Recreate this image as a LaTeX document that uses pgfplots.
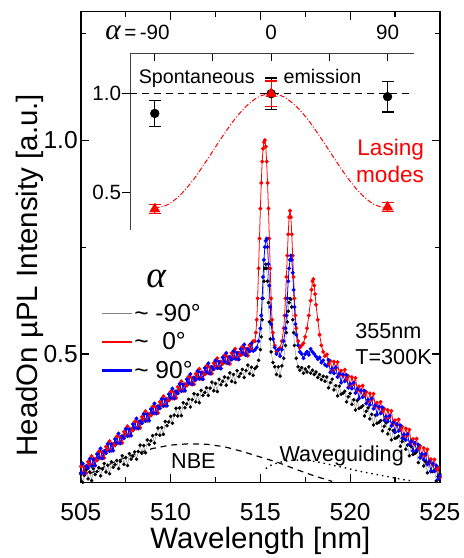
\documentclass[border=0pt]{standalone}
\usepackage{fontspec}
\setmainfont{Liberation Sans}
\newfontfamily\greekserif{Liberation Serif}
\usepackage{pgfplots}
\pgfplotsset{compat=1.18}
\begin{document}
\begin{tikzpicture}
\begin{axis}[
  name=main,
  at={(0,0)}, anchor=south west,
  scale only axis, width=364bp, height=477bp,
  xmin=505, xmax=525, ymin=0.2, ymax=1.3,
  xtick={505,510,515,520,525}, xticklabels={505,510,515,520,525},
  minor xtick={507.5,512.5,517.5,522.5},
  ytick={0.5,1.0}, yticklabels={0.5,1.0},
  minor ytick={0.75,1.25},
  tick align=inside,
  major tick length=8bp, minor tick length=5bp,
  every tick/.style={black, line width=1.1bp},
  axis line style={line width=1.3bp},
  xticklabel style={font=\fontsize{25}{25}\selectfont, anchor=base, yshift=-39bp},
  yticklabel style={font=\fontsize{25}{25}\selectfont, anchor=east, inner sep=0pt, xshift=-3bp},
  xlabel={Wavelength [nm]},
  xlabel style={font=\fontsize{30}{30}\selectfont, at={(axis description cs:0.5,-0.141)}, anchor=base},
  ylabel={HeadOn µPL Intensity [a.u.]},
  ylabel style={font=\fontsize{30}{30}\selectfont, at={(axis description cs:-0.121,0.44)}, anchor=base},
  legend style={at={(axis cs:506.1,0.62)}, anchor=north west, draw=none, fill=none,
    font=\fontsize{25}{25}\selectfont, inner sep=0pt, row sep=7bp,
    nodes={inner sep=1.5bp}},
  legend cell align=left,
  legend image code/.code={\draw[#1] (0bp,0bp) -- (30bp,0bp);},
]
% NBE and waveguiding
\addplot[forget plot, black, line width=1.2bp, dash pattern=on 6bp off 5bp] coordinates {
(505.5,0.220) (506,0.230) (507,0.250) (508,0.266) (509,0.279) (510,0.287) (511,0.290) (512,0.289)
(513,0.283) (514,0.272) (515,0.259) (516,0.246) (517,0.230) (518,0.215) (519,0.202)};
\addplot[forget plot, black, line width=1.4bp, dash pattern=on 1.5bp off 4bp] coordinates {
(515.3,0.232) (515.6,0.240) (516,0.246) (516.5,0.250) (517,0.252) (517.5,0.251) (518,0.249)
(518.5,0.245) (519,0.240) (519.5,0.236) (520,0.231) (520.5,0.226) (521,0.222) (521.5,0.218)
(522,0.214) (522.5,0.210) (523,0.206) (523.5,0.203)};
% alpha ~ -90
\addplot[forget plot, gray, line width=0.4bp, mark=*, mark size=1.6bp, mark options={black, draw=none, fill=black}] table {
505.0 0.219
505.1 0.200
505.2 0.216
505.3 0.229
505.4 0.208
505.5 0.224
505.6 0.204
505.7 0.232
505.8 0.218
505.9 0.225
506.0 0.234
506.1 0.215
506.2 0.231
506.3 0.244
506.4 0.224
506.5 0.240
506.6 0.220
506.7 0.248
506.8 0.235
506.9 0.241
507.0 0.251
507.1 0.232
507.2 0.249
507.3 0.262
507.4 0.242
507.5 0.258
507.6 0.239
507.7 0.267
507.8 0.254
507.9 0.261
508.0 0.271
508.1 0.254
508.2 0.272
508.3 0.287
508.4 0.268
508.5 0.286
508.6 0.269
508.7 0.299
508.8 0.288
508.9 0.297
509.0 0.309
509.1 0.292
509.2 0.312
509.3 0.327
509.4 0.310
509.5 0.328
509.6 0.312
509.7 0.342
509.8 0.332
509.9 0.341
510.0 0.354
510.1 0.338
510.2 0.357
510.3 0.373
510.4 0.355
510.5 0.374
510.6 0.356
510.7 0.386
510.8 0.374
510.9 0.383
511.0 0.394
511.1 0.376
511.2 0.393
511.3 0.407
511.4 0.388
511.5 0.405
511.6 0.386
511.7 0.415
511.8 0.403
511.9 0.410
512.0 0.421
512.1 0.403
512.2 0.420
512.3 0.434
512.4 0.414
512.5 0.431
512.6 0.412
512.7 0.441
512.8 0.428
512.9 0.436
513.0 0.446
513.1 0.427
513.2 0.444
513.3 0.456
513.4 0.436
513.5 0.452
513.6 0.433
513.7 0.461
513.8 0.447
513.9 0.454
514.0 0.464
514.1 0.445
514.2 0.461
514.3 0.474
514.4 0.454
514.5 0.469
514.6 0.450
514.7 0.466
514.8 0.470
514.9 0.485
515.0 0.510
515.05 0.540
515.1 0.580
515.15 0.630
515.2 0.670
515.25 0.700
515.3 0.710
515.35 0.700
515.4 0.670
515.45 0.620
515.5 0.575
515.55 0.535
515.6 0.505
515.7 0.480
515.8 0.470
515.9 0.452
516.0 0.470
516.1 0.448
516.2 0.472
516.3 0.490
516.4 0.520
516.45 0.550
516.5 0.575
516.55 0.600
516.6 0.620
516.65 0.630
516.7 0.628
516.75 0.610
516.8 0.580
516.85 0.550
516.9 0.520
517.0 0.490
517.1 0.470
517.2 0.462
517.3 0.468
517.4 0.455
517.5 0.465
517.6 0.458
517.7 0.470
517.8 0.455
517.9 0.462
518.0 0.452
518.1 0.458
518.2 0.445
518.3 0.452
518.4 0.440
518.5 0.448
518.6 0.436
518.7 0.446
518.8 0.421
518.9 0.433
519.0 0.441
519.1 0.416
519.2 0.426
519.3 0.402
519.4 0.425
519.5 0.406
519.6 0.408
519.7 0.413
519.8 0.388
519.9 0.400
520.0 0.408
520.1 0.382
520.2 0.393
520.3 0.369
520.4 0.391
520.5 0.373
520.6 0.375
520.7 0.379
520.8 0.355
520.9 0.366
521.0 0.374
521.1 0.348
521.2 0.359
521.3 0.334
521.4 0.357
521.5 0.338
521.6 0.340
521.7 0.344
521.8 0.320
521.9 0.331
522.0 0.339
522.1 0.313
522.2 0.324
522.3 0.299
522.4 0.321
522.5 0.303
522.6 0.304
522.7 0.308
522.8 0.284
522.9 0.295
523.0 0.302
523.1 0.277
523.2 0.287
523.3 0.262
523.4 0.284
523.5 0.265
523.6 0.267
523.7 0.271
523.8 0.246
523.9 0.257
524.0 0.264
524.1 0.238
524.2 0.248
524.3 0.222
524.4 0.244
524.5 0.225
524.6 0.225
524.7 0.228
524.8 0.203
524.9 0.213
525.0 0.219
};
% alpha ~ 0
\addplot[forget plot, red, line width=0.8bp, mark=*, mark size=1.6bp, mark options={draw=none, fill=red}] table {
505.0 0.237
505.1 0.221
505.2 0.236
505.3 0.222
505.4 0.248
505.5 0.240
505.6 0.261
505.7 0.239
505.8 0.255
505.9 0.251
506.0 0.272
506.1 0.256
506.2 0.271
506.3 0.257
506.4 0.283
506.5 0.275
506.6 0.296
506.7 0.274
506.8 0.290
506.9 0.286
507.0 0.307
507.1 0.291
507.2 0.306
507.3 0.292
507.4 0.318
507.5 0.310
507.6 0.331
507.7 0.309
507.8 0.325
507.9 0.321
508.0 0.342
508.1 0.326
508.2 0.341
508.3 0.327
508.4 0.353
508.5 0.345
508.6 0.366
508.7 0.344
508.8 0.360
508.9 0.356
509.0 0.377
509.1 0.361
509.2 0.376
509.3 0.362
509.4 0.388
509.5 0.380
509.6 0.401
509.7 0.379
509.8 0.395
509.9 0.391
510.0 0.412
510.1 0.396
510.2 0.411
510.3 0.397
510.4 0.423
510.5 0.415
510.6 0.436
510.7 0.414
510.8 0.430
510.9 0.426
511.0 0.447
511.1 0.430
511.2 0.444
511.3 0.429
511.4 0.454
511.5 0.445
511.6 0.465
511.7 0.442
511.8 0.457
511.9 0.452
512.0 0.472
512.1 0.455
512.2 0.469
512.3 0.454
512.4 0.479
512.5 0.470
512.6 0.490
512.7 0.467
512.8 0.482
512.9 0.477
513.0 0.497
513.1 0.479
513.2 0.493
513.3 0.477
513.4 0.502
513.5 0.492
513.6 0.512
513.7 0.488
513.8 0.503
513.9 0.497
514.0 0.517
514.1 0.499
514.2 0.512
514.3 0.496
514.4 0.521
514.5 0.510
514.6 0.530
514.7 0.530
514.75 0.550
514.8 0.580
514.85 0.630
514.9 0.700
514.95 0.770
515.0 0.840
515.05 0.900
515.1 0.950
515.15 0.980
515.2 0.995
515.25 1.000
515.3 0.985
515.35 0.950
515.4 0.900
515.45 0.840
515.5 0.770
515.55 0.700
515.6 0.630
515.65 0.580
515.7 0.550
515.8 0.520
515.9 0.505
516.0 0.510
516.1 0.515
516.2 0.530
516.3 0.560
516.35 0.590
516.4 0.630
516.45 0.680
516.5 0.730
516.55 0.780
516.6 0.820
516.65 0.835
516.7 0.820
516.75 0.780
516.8 0.730
516.85 0.680
516.9 0.630
516.95 0.590
517.0 0.560
517.1 0.530
517.2 0.515
517.3 0.520
517.4 0.525
517.5 0.540
517.6 0.560
517.7 0.590
517.8 0.625
517.85 0.650
517.9 0.670
517.95 0.675
518.0 0.660
518.05 0.640
518.1 0.615
518.2 0.580
518.3 0.545
518.4 0.520
518.5 0.505
518.6 0.495
518.7 0.499
518.8 0.475
518.9 0.484
519.0 0.462
519.1 0.482
519.2 0.466
519.3 0.481
519.4 0.451
519.5 0.461
519.6 0.449
519.7 0.463
519.8 0.440
519.9 0.448
520.0 0.426
520.1 0.446
520.2 0.430
520.3 0.444
520.4 0.415
520.5 0.424
520.6 0.412
520.7 0.426
520.8 0.403
520.9 0.411
521.0 0.389
521.1 0.408
521.2 0.393
521.3 0.407
521.4 0.377
521.5 0.386
521.6 0.374
521.7 0.388
521.8 0.364
521.9 0.372
522.0 0.350
522.1 0.369
522.2 0.353
522.3 0.367
522.4 0.337
522.5 0.345
522.6 0.333
522.7 0.347
522.8 0.322
522.9 0.330
523.0 0.308
523.1 0.326
523.2 0.310
523.3 0.323
523.4 0.293
523.5 0.301
523.6 0.289
523.7 0.302
523.8 0.277
523.9 0.285
524.0 0.262
524.1 0.280
524.2 0.263
524.3 0.277
524.4 0.246
524.5 0.254
524.6 0.241
524.7 0.253
524.8 0.228
524.9 0.234
525.0 0.211
};
% alpha ~ 90
\addplot[forget plot, blue, line width=0.8bp, mark=*, mark size=1.6bp, mark options={draw=none, fill=blue}] table {
505.0 0.222
505.1 0.244
505.2 0.221
505.3 0.238
505.4 0.233
505.5 0.255
505.6 0.238
505.7 0.254
505.8 0.239
505.9 0.266
506.0 0.257
506.1 0.279
506.2 0.256
506.3 0.273
506.4 0.268
506.5 0.290
506.6 0.273
506.7 0.289
506.8 0.274
506.9 0.301
507.0 0.292
507.1 0.314
507.2 0.291
507.3 0.308
507.4 0.303
507.5 0.325
507.6 0.308
507.7 0.324
507.8 0.309
507.9 0.336
508.0 0.327
508.1 0.349
508.2 0.326
508.3 0.343
508.4 0.338
508.5 0.360
508.6 0.343
508.7 0.359
508.8 0.344
508.9 0.371
509.0 0.362
509.1 0.384
509.2 0.361
509.3 0.378
509.4 0.373
509.5 0.395
509.6 0.378
509.7 0.394
509.8 0.379
509.9 0.406
510.0 0.397
510.1 0.419
510.2 0.396
510.3 0.413
510.4 0.408
510.5 0.430
510.6 0.413
510.7 0.429
510.8 0.414
510.9 0.441
511.0 0.432
511.1 0.453
511.2 0.429
511.3 0.445
511.4 0.439
511.5 0.460
511.6 0.442
511.7 0.457
511.8 0.441
511.9 0.467
512.0 0.457
512.1 0.478
512.2 0.454
512.3 0.470
512.4 0.464
512.5 0.485
512.6 0.467
512.7 0.482
512.8 0.466
512.9 0.492
513.0 0.482
513.1 0.502
513.2 0.478
513.3 0.493
513.4 0.487
513.5 0.507
513.6 0.489
513.7 0.503
513.8 0.487
513.9 0.512
514.0 0.502
514.1 0.522
514.2 0.497
514.3 0.512
514.4 0.506
514.5 0.525
514.6 0.507
514.7 0.510
514.8 0.515
514.9 0.530
515.0 0.560
515.05 0.590
515.1 0.630
515.15 0.680
515.2 0.720
515.25 0.750
515.3 0.765
515.35 0.770
515.4 0.750
515.45 0.710
515.5 0.660
515.55 0.610
515.6 0.570
515.7 0.535
515.8 0.515
515.9 0.500
516.0 0.510
516.1 0.495
516.2 0.510
516.3 0.530
516.4 0.560
516.45 0.590
516.5 0.630
516.55 0.670
516.6 0.700
516.65 0.720
516.7 0.730
516.75 0.720
516.8 0.690
516.85 0.650
516.9 0.610
516.95 0.570
517.0 0.545
517.1 0.520
517.2 0.505
517.3 0.500
517.4 0.490
517.5 0.500
517.6 0.505
517.7 0.498
517.8 0.512
517.9 0.505
518.0 0.500
518.1 0.494
518.2 0.488
518.3 0.492
518.4 0.480
518.5 0.485
518.6 0.475
518.7 0.472
518.8 0.486
518.9 0.457
519.0 0.466
519.1 0.455
519.2 0.469
519.3 0.446
519.4 0.454
519.5 0.433
519.6 0.452
519.7 0.436
519.8 0.451
519.9 0.421
520.0 0.430
520.1 0.419
520.2 0.433
520.3 0.409
520.4 0.418
520.5 0.396
520.6 0.415
520.7 0.399
520.8 0.414
520.9 0.384
521.0 0.393
521.1 0.381
521.2 0.396
521.3 0.372
521.4 0.380
521.5 0.358
521.6 0.377
521.7 0.361
521.8 0.375
521.9 0.345
522.0 0.354
522.1 0.342
522.2 0.356
522.3 0.332
522.4 0.340
522.5 0.317
522.6 0.336
522.7 0.320
522.8 0.333
522.9 0.303
523.0 0.312
523.1 0.299
523.2 0.313
523.3 0.288
523.4 0.296
523.5 0.273
523.6 0.292
523.7 0.275
523.8 0.288
523.9 0.258
524.0 0.266
524.1 0.253
524.2 0.266
524.3 0.242
524.4 0.249
524.5 0.226
524.6 0.244
524.7 0.226
524.8 0.239
524.9 0.207
525.0 0.215
};
\addlegendimage{gray, line width=0.8bp}
\addlegendentry{\textasciitilde\ -90°}
\addlegendimage{red, line width=2.5bp}
\addlegendentry{\textasciitilde\ \ 0°}
\addlegendimage{blue, line width=2.5bp}
\addlegendentry{\textasciitilde\ 90°}
\node[anchor=center, font=\fontsize{38}{38}\selectfont\greekserif\itshape] at (axis cs:509.2,0.675) {α};
\node[anchor=base west, font=\fontsize{22}{22}\selectfont] at (axis cs:520.1,0.537) {355nm};
\node[anchor=base west, font=\fontsize{22}{22}\selectfont] at (axis cs:520.1,0.475) {T=300K};
\node[anchor=base west, font=\fontsize{22}{22}\selectfont] at (axis cs:509.84,0.233) {NBE};
\node[anchor=base west, font=\fontsize{22}{22}\selectfont] at (axis cs:515.88,0.249) {Waveguiding};
\end{axis}
% inset
\begin{axis}[
  at={(50bp,256bp)}, anchor=south west,
  scale only axis, width=288bp, height=179bp,
  xmin=-109, xmax=110.6, ymin=0.31, ymax=1.205,
  axis x line=top, axis y line=left,
  axis line style={-, line width=1bp, black!75},
  clip=false,
  xtick={-90,-45,0,45,90},
  xticklabels={{\llap{{\fontsize{30}{30}\selectfont\greekserif\itshape α}\,=\,}-90},,0,,90},
  ytick={0.5,1.0}, yticklabels={0.5,1.0},
  tick align=outside,
  major tick length=8bp,
  x tick style={yshift=-8bp},
  every tick/.style={black, line width=1bp},
  xticklabel style={font=\fontsize{21}{21}\selectfont, anchor=base, yshift=6bp},
  yticklabel style={font=\fontsize{21}{21}\selectfont, anchor=east, inner sep=0pt, xshift=-1bp},
]
\addplot[black, line width=1.5bp, dash pattern=on 7bp off 5bp] coordinates {(-109,1) (110.6,1)};
\addplot[red, line width=1bp, dash pattern=on 5bp off 2bp on 1bp off 2bp, smooth] coordinates {
(-90,0.420) (-80,0.437) (-70,0.488) (-60,0.565) (-50,0.660) (-40,0.760) (-30,0.855) (-20,0.932)
(-10,0.983) (0,1.000) (10,0.983) (20,0.932) (30,0.855) (40,0.760) (50,0.660) (60,0.565) (70,0.488)
(80,0.437) (90,0.420)};
\addplot[black, only marks, mark=*, mark size=4.5bp,
  error bars/.cd, y dir=both, y explicit,
  error bar style={line width=1.3bp, black},
  error mark options={rotate=90, mark size=6bp, line width=1.3bp, black}]
  coordinates {(-90,0.90) +- (0,0.065) (0,1.0) +- (0,0.08) (90,0.985) +- (0,0.078)};
\addplot[red, only marks, mark=triangle*, mark size=6bp,
  error bars/.cd, y dir=both, y explicit,
  error bar style={line width=1.3bp, red},
  error mark options={rotate=90, mark size=6bp, line width=1.3bp, red}]
  coordinates {(-90,0.415) +- (0,0.022) (0,1.0) +- (0,0.065) (90,0.425) +- (0,0.022)};
\node[anchor=base west, font=\fontsize{20}{20}\selectfont] at (axis cs:-105,1.05) {Spontaneous};
\node[anchor=base west, font=\fontsize{20}{20}\selectfont] at (axis cs:7,1.05) {emission};
\node[anchor=base west, font=\fontsize{23}{23}\selectfont, text=red] at (axis cs:64,0.685) {Lasing};
\node[anchor=base west, font=\fontsize{23}{23}\selectfont, text=red] at (axis cs:63,0.55) {modes};
\end{axis}
\path (-82bp,-69bp) rectangle (387bp,489bp);
\end{tikzpicture}
\end{document}
